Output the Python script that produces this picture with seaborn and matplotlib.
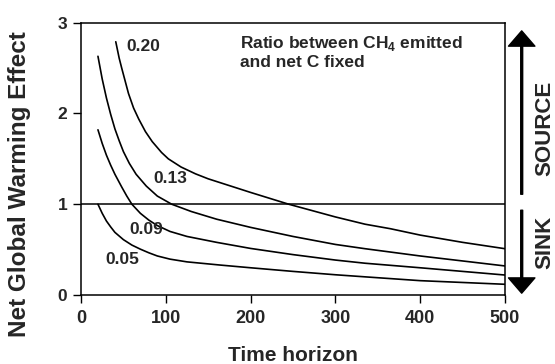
import seaborn as sns
import numpy as np
import pandas as pd
import matplotlib
matplotlib.use("Agg")
import matplotlib.pyplot as plt

# curves: ratio CH4 emitted / net C fixed
x_020 = [41, 45, 48, 52, 56, 62, 68, 76, 84, 95, 103, 118, 135, 150, 170, 200, 245, 300, 335, 365, 400, 450, 500]
y_020 = [2.79, 2.61, 2.50, 2.36, 2.22, 2.06, 1.94, 1.80, 1.69, 1.57, 1.50, 1.41, 1.335, 1.28, 1.22, 1.13, 1.00, 0.86, 0.78, 0.73, 0.66, 0.58, 0.51]

x_013 = [20, 25, 30, 35, 40, 45, 50, 57, 65, 77, 90, 107, 130, 160, 200, 250, 300, 335, 400, 450, 500]
y_013 = [2.63, 2.38, 2.17, 1.99, 1.83, 1.70, 1.58, 1.45, 1.33, 1.20, 1.09, 1.00, 0.92, 0.835, 0.745, 0.645, 0.557, 0.51, 0.43, 0.375, 0.32]

x_009 = [20, 25, 30, 35, 40, 48, 54, 60, 70, 80, 90, 105, 125, 160, 200, 250, 300, 335, 400, 450, 500]
y_009 = [1.82, 1.67, 1.54, 1.43, 1.33, 1.19, 1.09, 1.00, 0.90, 0.825, 0.765, 0.70, 0.645, 0.58, 0.513, 0.445, 0.385, 0.35, 0.30, 0.26, 0.22]

x_005 = [20, 25, 30, 35, 40, 50, 60, 70, 80, 90, 105, 125, 164, 200, 250, 300, 335, 400, 450, 500]
y_005 = [1.00, 0.90, 0.815, 0.75, 0.69, 0.61, 0.55, 0.505, 0.465, 0.43, 0.395, 0.365, 0.33, 0.30, 0.26, 0.223, 0.20, 0.158, 0.138, 0.118]

series = {"0.20": (x_020, y_020), "0.13": (x_013, y_013),
          "0.09": (x_009, y_009), "0.05": (x_005, y_005)}

# label anchors (left edge x, centre y) in data units
label_pos = {"0.20": (53, 2.74), "0.13": (85, 1.28), "0.09": (57, 0.725), "0.05": (29, 0.395)}

xticks = [0, 100, 200, 300, 400, 500]
yticks = [0, 1, 2, 3]

sns.set_style("ticks")
plt.rcParams['font.family'] = ['Liberation Sans', 'DejaVu Sans']
plt.rcParams['font.weight'] = 'bold'
plt.rcParams['mathtext.fontset'] = 'custom'
plt.rcParams['mathtext.rm'] = 'Liberation Sans:bold'
plt.rcParams['mathtext.bf'] = 'Liberation Sans:bold'

fig = plt.figure(figsize=(5.55, 3.64), dpi=100)
ax = fig.add_axes([81 / 555, 1 - 295 / 364, 424 / 555, 272.3 / 364])

for name, (xs, ys) in series.items():
    df = pd.DataFrame({"t": xs, "v": ys})
    sns.lineplot(data=df, x="t", y="v", ax=ax, color="black", linewidth=1.2)
    lx, ly = label_pos[name]
    ax.text(lx, ly, name, ha="left", va="center", fontsize=12.5, fontweight="bold")

ax.axhline(1, color="black", linewidth=1.1)

ax.set_xlim(0, 500)
ax.set_ylim(0, 3)
ax.set_xticks(xticks)
ax.set_yticks(yticks)
ax.tick_params(direction="out", length=5.8, width=1.0, color="black")
ax.tick_params(axis="x", labelsize=13, pad=5)
ax.tick_params(axis="y", labelsize=12.5, pad=4)
for s in ax.spines.values():
    s.set_linewidth(1.1)
    s.set_color("black")

ax.set_xlabel("Time horizon", fontsize=15, fontweight="bold", labelpad=14)
ax.set_ylabel("")
fig.text(20 / 555, 1 - 184 / 364, "Net Global Warming Effect", rotation=90,
         ha="center", va="center", fontsize=17.5, fontweight="bold")

ax.text(188, 2.88, "Ratio between CH$_{\\mathbf{4}}$ emitted", ha="left", va="top",
        fontsize=12.5, fontweight="bold")
ax.text(188, 2.64, "and net C fixed", ha="left", va="top",
        fontsize=12.5, fontweight="bold")

# source / sink arrows on the right
arrow_x = (521.7 - 81) / 424
ax.annotate("", xy=(arrow_x, 2.91), xytext=(arrow_x, 1.11),
            xycoords=("axes fraction", "data"), textcoords=("axes fraction", "data"),
            arrowprops=dict(width=1.4, headwidth=19, headlength=11, facecolor="black",
                            edgecolor="black", shrink=0),
            annotation_clip=False)
ax.annotate("", xy=(arrow_x, 0.02), xytext=(arrow_x, 0.934),
            xycoords=("axes fraction", "data"), textcoords=("axes fraction", "data"),
            arrowprops=dict(width=1.4, headwidth=19, headlength=11, facecolor="black",
                            edgecolor="black", shrink=0),
            annotation_clip=False)
text_x = (545 - 81) / 424
ax.text(text_x, 1.84, "SOURCE", transform=ax.get_yaxis_transform(), rotation=90,
        ha="center", va="center", fontsize=16, fontweight="bold")
ax.text(text_x, 0.58, "SINK", transform=ax.get_yaxis_transform(), rotation=90,
        ha="center", va="center", fontsize=16, fontweight="bold")

fig.savefig("out.png", dpi=100)
